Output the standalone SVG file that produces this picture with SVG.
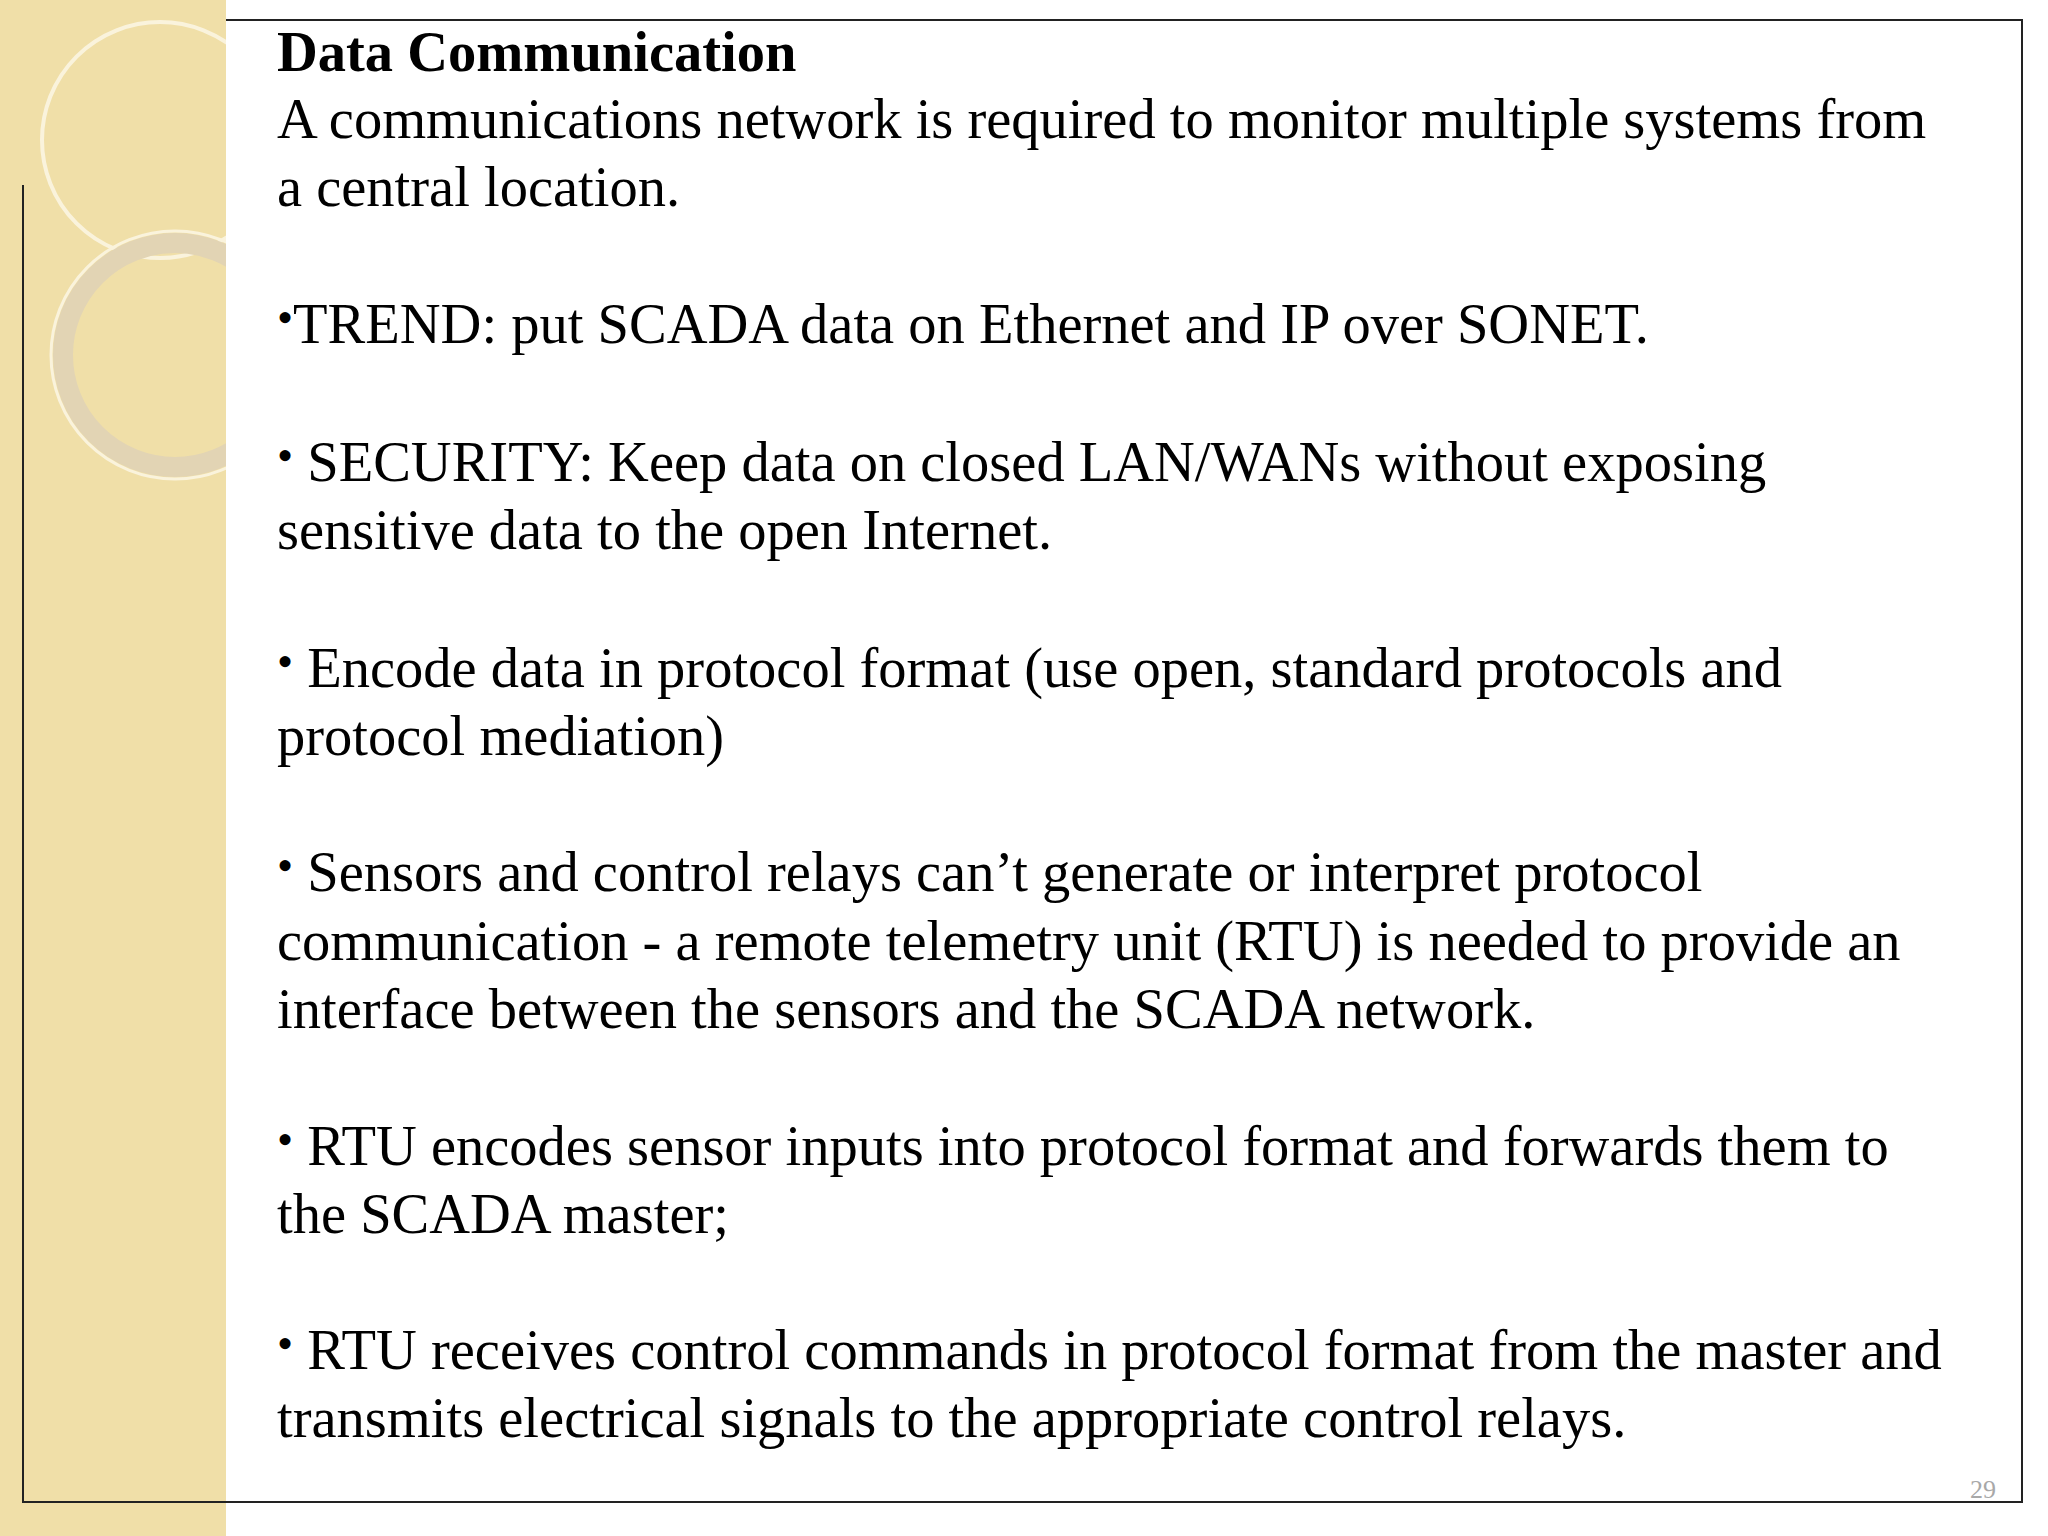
<svg xmlns="http://www.w3.org/2000/svg" width="2048" height="1536" viewBox="0 0 2048 1536">
<style>
.t{font-family:"Liberation Serif",serif;font-size:56.5px;fill:#000}
.b{font-size:46px}
</style>
<defs><clipPath id="c"><rect x="0" y="0" width="226" height="1536"/></clipPath></defs>
<rect width="2048" height="1536" fill="#fff"/>
<g id="strip">
<rect x="0" y="0" width="226" height="1536" fill="#f0dfa8"/>
<g clip-path="url(#c)" fill="none">
<circle cx="160" cy="140" r="118" stroke="#faf3dc" stroke-width="4"/>
<circle cx="175" cy="355" r="112" stroke="#e2d4b4" stroke-width="20"/>
<circle cx="175" cy="355" r="124" stroke="#faf3dc" stroke-width="3"/>
</g>
</g>
<g id="frame" fill="none" stroke="#222" stroke-width="2">
<polyline points="226,20 2022,20 2022,1502 23,1502 23,185"/>
</g>
<g id="text" class="t">
<text x="277" y="71" font-weight="bold">Data Communication</text>
<text x="277" y="138">A communications network is required to monitor multiple systems from</text>
<text x="277" y="206">a central location.</text>
<text x="277" y="343"><tspan class="b" dy="-10">•</tspan><tspan dy="10">TREND: put SCADA data on Ethernet and IP over SONET.</tspan></text>
<text x="277" y="481"><tspan class="b" dy="-10">•</tspan><tspan dy="10"> SECURITY: Keep data on closed LAN/WANs without exposing</tspan></text>
<text x="277" y="549">sensitive data to the open Internet.</text>
<text x="277" y="687"><tspan class="b" dy="-10">•</tspan><tspan dy="10"> Encode data in protocol format (use open, standard protocols and</tspan></text>
<text x="277" y="755">protocol mediation)</text>
<text x="277" y="891"><tspan class="b" dy="-10">•</tspan><tspan dy="10"> Sensors and control relays can’t generate or interpret protocol</tspan></text>
<text x="277" y="960">communication - a remote telemetry unit (RTU) is needed to provide an</text>
<text x="277" y="1028">interface between the sensors and the SCADA network.</text>
<text x="277" y="1165"><tspan class="b" dy="-10">•</tspan><tspan dy="10"> RTU encodes sensor inputs into protocol format and forwards them to</tspan></text>
<text x="277" y="1233">the SCADA master;</text>
<text x="277" y="1369"><tspan class="b" dy="-10">•</tspan><tspan dy="10"> RTU receives control commands in protocol format from the master and</tspan></text>
<text x="277" y="1437">transmits electrical signals to the appropriate control relays.</text>
<text x="1996" y="1498" text-anchor="end" style="font-size:26px;fill:#a8a8a8">29</text>
</g>
</svg>
